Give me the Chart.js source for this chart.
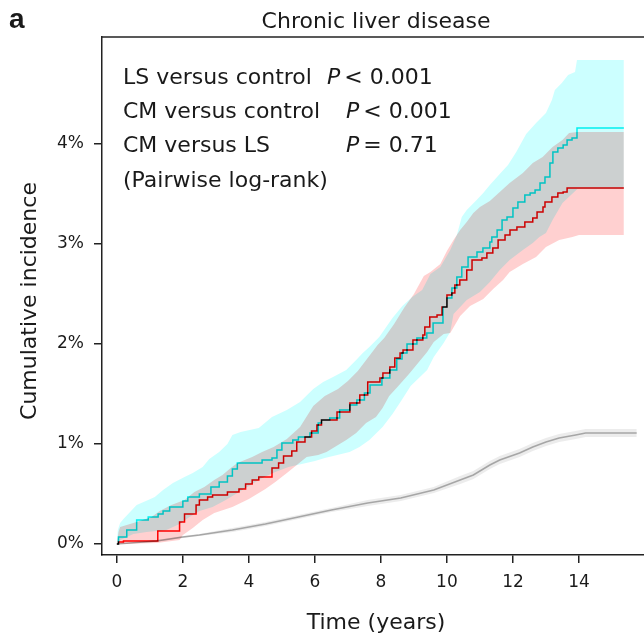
<!DOCTYPE html>
<html>
<head>
<meta charset="utf-8">
<script src="https://cdn.jsdelivr.net/npm/chart.js@4"></script>
<style>
  body { margin: 0; background: #fff; }
  canvas { display: block; }
</style>
</head>
<body>
<canvas id="chart" width="644" height="637"></canvas>
<script>
// time in years, cumulative incidence in %
const xTicks = [0, 2, 4, 6, 8, 10, 12, 14];
const yTicks = [0, 1, 2, 3, 4];

// cyan group (CM), step curve
const cmCurve = [
  [0,0],[0.05,0.07],[0.3,0.14],[0.6,0.24],[0.95,0.27],[1.25,0.3],[1.4,0.33],[1.6,0.37],
  [2.0,0.43],[2.15,0.47],[2.5,0.5],[2.85,0.57],[3.1,0.62],[3.35,0.68],[3.5,0.75],[3.65,0.81],
  [4.4,0.84],[4.7,0.86],[4.85,0.94],[5.0,1.01],[5.33,1.04],[5.5,1.07],[5.85,1.11],[6.1,1.21],
  [6.2,1.24],[6.45,1.26],[6.75,1.34],[7.06,1.39],[7.27,1.44],[7.5,1.51],[7.67,1.59],[8.03,1.66],
  [8.27,1.74],[8.48,1.85],[8.64,1.91],[8.79,2.0],[9.09,2.06],[9.39,2.11],[9.58,2.21],[9.88,2.37],
  [10.0,2.46],[10.15,2.56],[10.3,2.67],[10.45,2.77],[10.64,2.87],[10.91,2.92],[11.09,2.96],
  [11.3,3.02],[11.36,3.07],[11.52,3.14],[11.67,3.24],[11.82,3.27],[12.0,3.36],[12.15,3.42],
  [12.36,3.49],[12.52,3.51],[12.67,3.54],[12.82,3.61],[12.97,3.67],[13.12,3.81],[13.21,3.92],
  [13.36,3.96],[13.52,3.99],[13.64,4.04],[13.79,4.06],[13.94,4.16],[15.36,4.16]
];
const cmUpper = [
  [0,0.01],[0.03,0.14],[0.1,0.21],[0.2,0.25],[0.6,0.39],[0.95,0.44],[1.15,0.47],[1.4,0.54],
  [1.7,0.61],[2.05,0.67],[2.3,0.71],[2.6,0.77],[2.8,0.85],[3.1,0.92],[3.35,1.0],[3.5,1.09],
  [3.75,1.12],[4.3,1.16],[4.7,1.27],[5.15,1.34],[5.55,1.42],[5.95,1.55],[6.25,1.62],[6.55,1.67],
  [6.95,1.74],[7.25,1.84],[7.45,1.91],[7.65,1.97],[7.95,2.07],[8.35,2.26],[8.65,2.38],[8.95,2.47],
  [9.25,2.54],[9.5,2.7],[9.8,2.77],[10.1,2.94],[10.3,3.09],[10.45,3.27],[10.6,3.34],[10.9,3.44],
  [11.1,3.51],[11.3,3.59],[11.6,3.7],[11.85,3.79],[12.1,3.92],[12.4,4.1],[12.7,4.21],[13.0,4.31],
  [13.18,4.44],[13.27,4.54],[13.48,4.61],[13.67,4.69],[13.88,4.72],[13.94,4.84],[15.36,4.84]
];
const cmLower = [
  [0,0],[0.1,0.04],[0.5,0.1],[0.9,0.12],[1.5,0.14],[1.9,0.2],[2.2,0.27],[2.5,0.33],[2.9,0.37],
  [3.3,0.44],[3.7,0.52],[4.1,0.6],[4.4,0.66],[4.8,0.72],[5.2,0.77],[5.6,0.8],[6.0,0.83],
  [6.3,0.86],[6.55,0.88],[7.05,0.92],[7.35,0.97],[7.65,1.04],[8.05,1.17],[8.35,1.3],[8.65,1.45],
  [8.9,1.58],[9.4,1.74],[9.6,1.87],[9.9,2.01],[10.1,2.12],[10.2,2.3],[10.6,2.44],[11.0,2.52],
  [11.3,2.62],[11.6,2.74],[11.9,2.84],[12.3,2.94],[12.6,3.01],[12.8,3.07],[13.0,3.11],
  [13.2,3.24],[13.5,3.41],[13.95,3.55],[15.36,3.55]
];

// red group (LS), step curve
const lsCurve = [
  [0,0],[0.05,0.02],[0.2,0.03],[1.24,0.13],[1.9,0.22],[2.05,0.3],[2.4,0.39],[2.5,0.44],
  [2.75,0.47],[2.9,0.49],[3.35,0.52],[3.7,0.55],[3.9,0.6],[4.1,0.64],[4.3,0.67],[4.7,0.76],
  [4.9,0.81],[5.05,0.88],[5.3,0.93],[5.45,1.02],[5.7,1.07],[5.9,1.13],[6.06,1.19],[6.2,1.24],
  [6.67,1.32],[7.06,1.41],[7.36,1.49],[7.6,1.62],[7.97,1.66],[8.06,1.71],[8.27,1.77],[8.42,1.86],
  [8.58,1.91],[8.67,1.94],[8.97,2.04],[9.27,2.09],[9.33,2.17],[9.48,2.27],[9.7,2.29],[9.85,2.37],
  [10.0,2.49],[10.15,2.51],[10.24,2.59],[10.39,2.64],[10.6,2.74],[10.76,2.84],[11.06,2.86],
  [11.21,2.91],[11.39,2.96],[11.55,3.04],[11.76,3.09],[11.91,3.14],[12.12,3.17],[12.36,3.22],
  [12.6,3.26],[12.73,3.32],[12.91,3.37],[12.97,3.42],[13.18,3.47],[13.36,3.51],[13.52,3.52],
  [13.64,3.56],[15.36,3.56]
];
const lsUpper = [
  [0,0.01],[0.05,0.12],[0.1,0.17],[0.6,0.22],[1.05,0.27],[1.3,0.33],[1.65,0.39],[2.05,0.44],
  [2.35,0.52],[2.65,0.57],[2.95,0.64],[3.2,0.69],[3.45,0.76],[3.65,0.81],[4.1,0.87],[4.4,0.92],
  [4.75,0.97],[5.15,1.05],[5.55,1.17],[5.95,1.38],[6.3,1.48],[6.7,1.55],[7.0,1.63],[7.3,1.73],
  [7.6,1.86],[7.9,1.99],[8.1,2.06],[8.4,2.2],[8.7,2.36],[9.0,2.5],[9.3,2.68],[9.5,2.72],
  [9.8,2.8],[10.0,2.93],[10.2,3.04],[10.4,3.14],[10.6,3.22],[10.8,3.31],[11.0,3.37],[11.3,3.43],
  [11.6,3.52],[11.9,3.61],[12.3,3.71],[12.6,3.81],[12.9,3.87],[13.2,3.97],[13.5,4.04],
  [13.7,4.11],[13.95,4.12],[15.36,4.12]
];
const lsLower = [
  [0,0],[1.2,0.01],[1.9,0.04],[2.0,0.09],[2.3,0.16],[2.6,0.24],[2.95,0.31],[3.5,0.37],[4.0,0.45],
  [4.5,0.55],[4.8,0.62],[5.15,0.71],[5.45,0.79],[5.75,0.87],[6.1,0.89],[6.35,0.92],[6.95,1.04],
  [7.25,1.11],[7.55,1.21],[7.85,1.27],[8.05,1.36],[8.25,1.48],[8.5,1.57],[8.85,1.7],[9.4,1.92],
  [9.6,2.02],[9.9,2.1],[10.1,2.11],[10.4,2.28],[10.7,2.38],[11.1,2.45],[11.4,2.55],[11.7,2.64],
  [11.9,2.72],[12.3,2.8],[12.7,2.87],[13.0,2.97],[13.4,3.04],[13.8,3.07],[14.0,3.09],[15.36,3.09]
];

// control group
const ctrlCurve = [
  [0,0],[1.2,0.03],[2.0,0.07],[2.5,0.09],[3.5,0.14],[4.5,0.2],[5.5,0.27],[6.5,0.34],[7.6,0.41],
  [8.6,0.46],[9.6,0.54],[10.4,0.64],[10.8,0.69],[11.3,0.79],[11.6,0.84],[12.2,0.91],[12.6,0.97],
  [13.0,1.02],[13.4,1.06],[13.9,1.09],[14.2,1.11],[15.75,1.11]
];
const ctrlUpper = [
  [0,0],[1.2,0.04],[2.0,0.08],[2.5,0.1],[3.5,0.16],[4.5,0.22],[5.5,0.29],[6.5,0.36],[7.6,0.44],
  [8.6,0.49],[9.6,0.57],[10.4,0.68],[10.8,0.73],[11.3,0.83],[11.6,0.88],[12.2,0.95],[12.6,1.01],
  [13.0,1.06],[13.4,1.1],[13.9,1.13],[14.2,1.15],[15.75,1.15]
];
const ctrlLower = [
  [0,0],[1.2,0.02],[2.0,0.06],[2.5,0.08],[3.5,0.12],[4.5,0.18],[5.5,0.25],[6.5,0.32],[7.6,0.38],
  [8.6,0.43],[9.6,0.51],[10.4,0.6],[10.8,0.65],[11.3,0.75],[11.6,0.8],[12.2,0.87],[12.6,0.93],
  [13.0,0.98],[13.4,1.02],[13.9,1.05],[14.2,1.07],[15.75,1.07]
];

const FONT = "'DejaVu Sans', sans-serif";
const INK = '#1a1a1a';

const toXY = arr => arr.map(p => ({ x: p[0], y: p[1] }));

function band(data, color, fill) {
  return {
    data: toXY(data),
    backgroundColor: color,
    borderWidth: 0,
    pointRadius: 0,
    stepped: false,
    fill: fill
  };
}

function curve(data, color, width, stepped) {
  return {
    data: toXY(data),
    borderColor: color,
    borderWidth: width,
    pointRadius: 0,
    stepped: stepped,
    fill: false
  };
}

const datasets = [
  band(ctrlUpper, '#ececec', '+1'),
  band(ctrlLower, '#ececec', false),
  band(cmUpper, '#ccffff', '+1'),
  band(cmLower, '#ccffff', false),
  band(lsUpper, '#ffd0d0', '+1'),
  band(lsLower, '#ffd0d0', false),
  curve(ctrlCurve, '#b4b4b4', 1.6, false),
  curve(lsCurve, '#ff0000', 1.5, true),
  curve(cmCurve, '#00f0f0', 1.5, true)
];

// bands and lines blend like the original (overlap turns grey)
const blendPlugin = {
  id: 'blend',
  beforeDraw(chart) {
    const ctx = chart.ctx;
    ctx.save();
    ctx.fillStyle = '#fff';
    ctx.fillRect(0, 0, chart.width, chart.height);
    ctx.restore();
    ctx.globalCompositeOperation = 'multiply';
  },
  afterDatasetsDraw(chart) {
    chart.ctx.globalCompositeOperation = 'source-over';
  }
};

// frame top line and texts
const textPlugin = {
  id: 'texts',
  afterDraw(chart) {
    const ctx = chart.ctx;
    const a = chart.chartArea;
    ctx.save();
    ctx.globalCompositeOperation = 'source-over';
    ctx.strokeStyle = '#222';
    ctx.lineWidth = 1.5;
    ctx.beginPath();
    ctx.moveTo(a.left, a.top);
    ctx.lineTo(a.right + 5, a.top);
    ctx.stroke();

    ctx.fillStyle = INK;
    ctx.textBaseline = 'middle';

    ctx.font = "bold 28px 'Liberation Sans', sans-serif";
    ctx.textAlign = 'left';
    ctx.fillText('a', 9, 20);

    ctx.font = '22px ' + FONT;
    ctx.textAlign = 'center';
    ctx.fillText('Chronic liver disease', 376, 22);
    ctx.fillText('Time (years)', 376, 623);

    ctx.save();
    ctx.translate(30, 301);
    ctx.rotate(-Math.PI / 2);
    ctx.fillText('Cumulative incidence', 0, 0);
    ctx.restore();

    const rows = [
      ['LS versus control', 327, '< 0.001', 78],
      ['CM versus control', 346, '< 0.001', 112],
      ['CM versus LS', 346, '= 0.71', 146]
    ];
    ctx.textAlign = 'left';
    rows.forEach(r => {
      ctx.font = '22px ' + FONT;
      ctx.fillText(r[0], 123, r[3]);
      ctx.font = 'italic 22px ' + FONT;
      ctx.fillText('P', r[1], r[3]);
      const pw = ctx.measureText('P').width;
      ctx.font = '22px ' + FONT;
      ctx.fillText(r[2], r[1] + pw + 4, r[3]);
    });
    ctx.fillText('(Pairwise log-rank)', 123, 181);
    ctx.restore();
  }
};

const tickFont = { family: FONT, size: 17 };

new Chart(document.getElementById('chart').getContext('2d'), {
  type: 'line',
  data: { datasets },
  options: {
    responsive: false,
    animation: false,
    layout: { padding: { top: 37, left: 0, right: 0, bottom: 0 } },
    plugins: {
      legend: { display: false },
      tooltip: { enabled: false },
      title: { display: false }
    },
    scales: {
      x: {
        type: 'linear',
        min: -0.45,
        max: 15.97,
        afterBuildTicks: s => { s.ticks = xTicks.map(v => ({ value: v })); },
        afterFit: s => { s.height = 82; },
        grid: { drawOnChartArea: false, drawTicks: true, tickLength: 8, color: '#222', lineWidth: 1.5 },
        border: { display: true, color: '#222', width: 1.5 },
        ticks: { color: INK, font: tickFont, padding: 9, maxRotation: 0, autoSkip: false }
      },
      y: {
        type: 'linear',
        min: -0.11,
        max: 5.07,
        afterBuildTicks: s => { s.ticks = yTicks.map(v => ({ value: v })); },
        afterFit: s => { s.width = 102; },
        grid: { drawOnChartArea: false, drawTicks: true, tickLength: 8, color: '#222', lineWidth: 1.5 },
        border: { display: true, color: '#222', width: 1.5 },
        ticks: { color: INK, font: tickFont, padding: 10, callback: v => v + '%' }
      }
    }
  },
  plugins: [blendPlugin, textPlugin]
});
</script>
</body>
</html>
